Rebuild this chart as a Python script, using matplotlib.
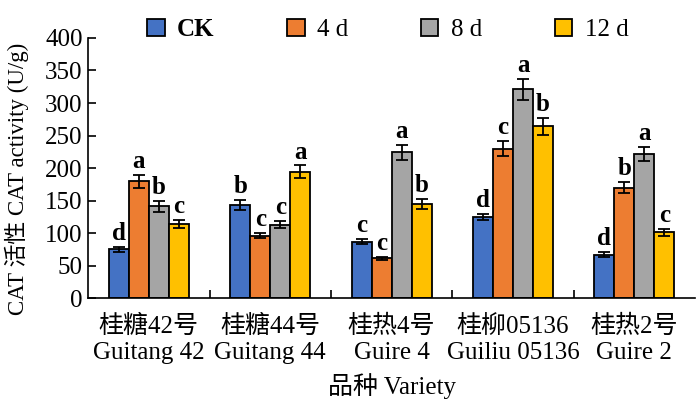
import numpy as np
import matplotlib.pyplot as plt

plt.rcParams['font.family'] = ['Liberation Serif', 'Noto Sans CJK SC']
plt.rcParams['font.size'] = 18

varieties = ['桂糖42号\nGuitang 42', '桂糖44号\nGuitang 44', '桂热4号\nGuire 4',
             '桂柳05136\nGuiliu 05136', '桂热2号\nGuire 2']
series = ['CK', '4 d', '8 d', '12 d']
colors = ['#4472C4', '#ED7D31', '#A5A5A5', '#FFC000']

ck = [75, 143, 87, 125, 67]
d4 = [180, 96, 61, 230, 170]
d8 = [141, 113, 224, 321, 222]
d12 = [114, 194, 145, 264, 101]
ck_err = [4, 8, 4, 5, 4]
d4_err = [10, 4, 2, 11, 9]
d8_err = [8, 5, 11, 16, 11]
d12_err = [6, 10, 8, 13, 6]
letters = [['d', 'a', 'b', 'c'],
           ['b', 'c', 'c', 'a'],
           ['c', 'c', 'a', 'b'],
           ['d', 'c', 'a', 'b'],
           ['d', 'b', 'a', 'c']]

vals = [ck, d4, d8, d12]
errs = [ck_err, d4_err, d8_err, d12_err]

fig = plt.figure(figsize=(7, 4.04), dpi=100)
ax = fig.add_axes([0.126, 0.262, 0.867, 0.644])

x = np.arange(len(varieties))
w = 0.165
for i in range(4):
    pos = x + (i - 1.5) * w
    ax.bar(pos, vals[i], w, color=colors[i], edgecolor='black', linewidth=1.3,
           label=series[i], zorder=2)
    ax.errorbar(pos, vals[i], yerr=errs[i], fmt='none', ecolor='black',
                elinewidth=1.3, capsize=4, capthick=1.3, zorder=3)
    for j in range(len(varieties)):
        ax.text(pos[j], vals[i][j] + errs[i][j] + 3, letters[j][i],
                ha='center', va='bottom', fontsize=18, fontweight='bold')

ax.set_xlim(-0.5, 4.5)
ax.set_ylim(0, 400)
ax.set_yticks(np.arange(0, 401, 50))
ax.set_xticks(x)
ax.set_xticklabels(varieties, linespacing=1.25)
ax.set_xticks(np.arange(0.5, 4.5, 1), minor=True)
ax.tick_params(axis='x', which='major', length=0, pad=12)
ax.tick_params(axis='x', which='minor', direction='in', length=6, width=1.2)
ax.tick_params(axis='y', direction='in', length=6, width=1.2, pad=4)
ax.spines['top'].set_visible(False)
ax.spines['right'].set_visible(False)
ax.spines['left'].set_linewidth(1.2)
ax.spines['bottom'].set_linewidth(1.2)

ax.set_ylabel('CAT 活性 CAT activity (U/g)', fontsize=16.5)
ax.yaxis.set_label_coords(-0.097, 0.46)
ax.set_xlabel('品种 Variety', labelpad=6)

leg = fig.legend(loc='upper left', bbox_to_anchor=(0.178, 1.01), ncol=4, frameon=False,
                 handlelength=0.7, handleheight=0.7, handletextpad=0.5,
                 columnspacing=2.9, fontsize=18)
leg.get_texts()[0].set_fontweight('bold')

fig.savefig('out.png', dpi=100)
